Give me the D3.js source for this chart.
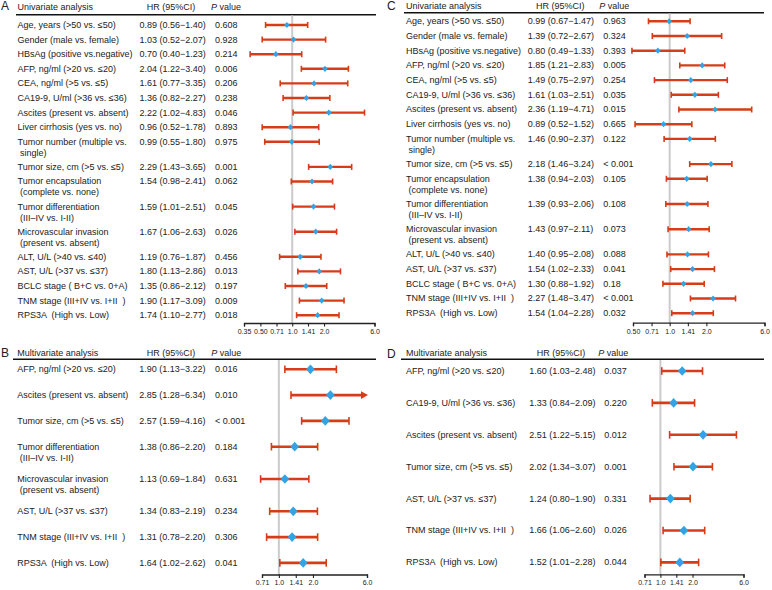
<!DOCTYPE html>
<html><head><meta charset="utf-8">
<script src="https://cdn.jsdelivr.net/npm/d3@7/dist/d3.min.js"></script>
<style>
body{margin:0;background:#fff}
text{font-family:"Liberation Sans",Arial,Helvetica,sans-serif;fill:#222}
</style>
</head><body>
<svg id="chart" width="772" height="590"></svg>
<script>
// ---------- DATA ----------
const uniLabels = [
  "Age, years (>50 vs. \u226450)",
  "Gender (male vs. female)",
  "HBsAg (positive vs.negative)",
  "AFP, ng/ml (>20 vs. \u226420)",
  "CEA, ng/ml (>5 vs. \u22645)",
  "CA19-9, U/ml (>36 vs. \u226436)",
  "Ascites (present vs. absent)",
  "Liver cirrhosis (yes vs. no)",
  "Tumor number (multiple vs.\n single)",
  "Tumor size, cm (>5 vs. \u22645)",
  "Tumor encapsulation\n (complete vs. none)",
  "Tumor differentiation\n (III\u2013IV vs. I-II)",
  "Microvascular invasion\n (present vs. absent)",
  "ALT, U/L (>40 vs. \u226440)",
  "AST, U/L (>37 vs. \u226437)",
  "BCLC stage ( B+C vs. 0+A)",
  "TNM stage (III+IV vs. I+II  )",
  "RPS3A  (High vs. Low)"
];
const hrA = [0.89,1.03,0.70,2.04,1.61,1.36,2.22,0.96,0.99,2.29,1.54,1.59,1.67,1.19,1.80,1.35,1.90,1.74];
const loA = [0.56,0.52,0.40,1.22,0.77,0.82,1.02,0.52,0.55,1.43,0.98,1.01,1.06,0.76,1.13,0.86,1.17,1.10];
const hiA = [1.40,2.07,1.23,3.40,3.35,2.27,4.83,1.78,1.80,3.65,2.41,2.51,2.63,1.87,2.86,2.12,3.09,2.77];
const pA  = ["0.608","0.928","0.214","0.006","0.206","0.238","0.046","0.893","0.975","0.001","0.062","0.045","0.026","0.456","0.013","0.197","0.009","0.018"];

const hrC = [0.99,1.39,0.80,1.85,1.49,1.61,2.36,0.89,1.46,2.18,1.38,1.39,1.43,1.40,1.54,1.30,2.27,1.54];
const loC = [0.67,0.72,0.49,1.21,0.75,1.03,1.19,0.52,0.90,1.46,0.94,0.93,0.97,0.95,1.02,0.88,1.48,1.04];
const hiC = [1.47,2.67,1.33,2.83,2.97,2.51,4.71,1.52,2.37,3.24,2.03,2.06,2.11,2.08,2.33,1.92,3.47,2.28];
const pC  = ["0.963","0.324","0.393","0.005","0.254","0.035","0.015","0.665","0.122","< 0.001","0.105","0.108","0.073","0.088","0.041","0.18","< 0.001","0.032"];

const labelsB = [
  "AFP, ng/ml (>20 vs. \u226420)",
  "Ascites (present vs. absent)",
  "Tumor size, cm (>5 vs. \u22645)",
  "Tumor differentiation\n (III\u2013IV vs. I-II)",
  "Microvascular invasion\n (present vs. absent)",
  "AST, U/L (>37 vs. \u226437)",
  "TNM stage (III+IV vs. I+II  )",
  "RPS3A  (High vs. Low)"
];
const hrB = [1.90,2.85,2.57,1.38,1.13,1.34,1.31,1.64];
const loB = [1.13,1.28,1.59,0.86,0.69,0.83,0.78,1.02];
const hiB = [3.22,6.34,4.16,2.20,1.84,2.19,2.20,2.62];
const pB  = ["0.016","0.010","< 0.001","0.184","0.631","0.234","0.306","0.041"];

const labelsD = [
  "AFP, ng/ml (>20 vs. \u226420)",
  "CA19-9, U/ml (>36 vs. \u226436)",
  "Ascites (present vs. absent)",
  "Tumor size, cm (>5 vs. \u22645)",
  "AST, U/L (>37 vs. \u226437)",
  "TNM stage (III+IV vs. I+II  )",
  "RPS3A  (High vs. Low)"
];
const hrD = [1.60,1.33,2.51,2.02,1.24,1.66,1.52];
const loD = [1.03,0.84,1.22,1.34,0.80,1.06,1.01];
const hiD = [2.48,2.09,5.15,3.07,1.90,2.60,2.28];
const pD  = ["0.037","0.220","0.012","0.001","0.331","0.026","0.044"];

const ticksA = [0.35,0.5,0.71,1,1.41,2,6];
const tickLabelsA = ["0.35","0.50","0.71","1.0","1.41","2.0","6.0"];
const ticksC = [0.5,0.71,1,1.41,2,6];
const tickLabelsC = ["0.50","0.71","1.0","1.41","2.0","6.0"];
const ticksBD = [0.71,1,1.41,2,6];
const tickLabelsBD = ["0.71","1.0","1.41","2.0","6.0"];

// ---------- STYLE ----------
const RED = "#d63c18", BLUE = "#33a3e4", GRAY = "#cbcbcb";

const svg = d3.select("#chart");

function fmtHR(h,l,u){ return h.toFixed(2)+" ("+l.toFixed(2)+"\u2212"+u.toFixed(2)+")"; }

function panel(cfg, labels, hr, lo, hi, p, ticks, tickLabels){
  const g = svg.append("g");
  const x = d3.scaleLog().base(2).domain(cfg.domain).range(cfg.range);
  const ys = []; let extra = 0;
  labels.forEach((lab,i)=>{
    ys.push(cfg.rowY0 + cfg.step*i + cfg.extra*extra);
    extra += lab.split("\n").length-1;
  });
  g.append("text").attr("x",cfg.letterX).attr("y",cfg.letterY)
    .style("font-size","12px").text(cfg.letter);
  g.append("text").attr("x",cfg.labelX).attr("y",cfg.headY).style("font-size","9px").text(cfg.title);
  g.append("text").attr("x",cfg.hrHeadX).attr("y",cfg.headY).style("font-size","9px").text("HR (95%CI)");
  const ph = g.append("text").attr("x",cfg.pHeadX).attr("y",cfg.headY).style("font-size","9px");
  ph.append("tspan").style("font-style","italic").text("P");
  ph.append("tspan").text(" value");
  g.append("line").attr("x1",cfg.lineX1).attr("x2",cfg.lineX2).attr("y1",cfg.lineY).attr("y2",cfg.lineY)
    .attr("stroke","#111").attr("stroke-width",1.4);
  g.append("line").attr("x1",x(1)).attr("x2",x(1)).attr("y1",cfg.lineY+0.7).attr("y2",cfg.axisY)
    .attr("stroke",GRAY).attr("stroke-width",2);
  labels.forEach((lab,i)=>{
    const y = ys[i];
    const t = g.append("text").attr("x",cfg.labelX).attr("y",y).style("font-size","9px");
    lab.split("\n").forEach((ln,k)=>{
      t.append("tspan").attr("x",cfg.labelX).attr("dy", k===0? "0.33em" : "11px")
       .style("white-space","pre").attr("xml:space","preserve").text(ln);
    });
    g.append("text").attr("x",cfg.hrX).attr("y",y).attr("dy","0.33em").style("font-size","9px").text(fmtHR(hr[i],lo[i],hi[i]));
    g.append("text").attr("x",cfg.pX).attr("y",y).attr("dy","0.33em").style("font-size","9px").text(p[i]);
  });
  const maxV = cfg.domain[1];
  const bars = g.append("g");
  hr.forEach((h,i)=>{
    const y = ys[i];
    const x1 = x(lo[i]);
    const clipped = hi[i] > maxV;
    const x2 = clipped ? x(maxV) - cfg.arrowLen + 1 : x(hi[i]);
    bars.append("line").attr("x1",x1).attr("x2",x2).attr("y1",y).attr("y2",y)
      .attr("stroke",RED).attr("stroke-width",cfg.barW);
    bars.append("line").attr("x1",x1).attr("x2",x1).attr("y1",y-cfg.capH).attr("y2",y+cfg.capH)
      .attr("stroke",RED).attr("stroke-width",1.6);
    if(clipped){
      const tip = x(maxV)+1;
      bars.append("path").attr("d",`M${tip},${y}L${tip-cfg.arrowLen},${y-3.8}L${tip-cfg.arrowLen},${y+3.8}Z`).attr("fill",RED);
    } else {
      bars.append("line").attr("x1",x2).attr("x2",x2).attr("y1",y-cfg.capH).attr("y2",y+cfg.capH)
        .attr("stroke",RED).attr("stroke-width",1.6);
    }
    const cx = x(h), s = cfg.mk;
    bars.append("path").attr("d",`M${cx},${y-s*1.1}L${cx+s},${y}L${cx},${y+s*1.1}L${cx-s},${y}Z`).attr("fill",BLUE);
  });
  const ax = g.append("g").attr("transform",`translate(0,${cfg.axisY})`)
    .call(d3.axisBottom(x).tickValues(ticks).tickFormat((d,i)=>tickLabels[i]).tickSizeOuter(0).tickSize(3.5).tickPadding(2.5));
  ax.select(".domain").attr("stroke","#222").attr("stroke-width",1.3);
  ax.selectAll(".tick line").attr("stroke","#222").attr("stroke-width",1.1);
  ax.selectAll(".tick text").style("font-family",'"Liberation Sans Narrow","Arial Narrow","Liberation Sans",sans-serif')
    .style("font-size","7px").attr("fill","#222");
}

panel({letter:"A",title:"Univariate analysis",letterX:1,letterY:10,headY:9.7,lineY:14.7,lineX1:16,lineX2:376,
  labelX:17.5,hrX:139.5,pX:215,hrHeadX:146.7,pHeadX:211,rowY0:25,step:14.6,extra:10.5,
  axisY:323,range:[244,374.5],domain:[0.35,6],mk:2.8,barW:2.4,capH:3,arrowLen:6},
  uniLabels,hrA,loA,hiA,pA,ticksA,tickLabelsA);

panel({letter:"C",title:"Univariate analysis",letterX:387,letterY:10,headY:8.5,lineY:12.7,lineX1:404,lineX2:764,
  labelX:406,hrX:527.7,pX:603.3,hrHeadX:536,pHeadX:599.3,rowY0:21.3,step:14.7,extra:10.5,
  axisY:322.7,range:[633,764.5],domain:[0.5,6],mk:2.8,barW:2.4,capH:3,arrowLen:6},
  uniLabels,hrC,loC,hiC,pC,ticksC,tickLabelsC);

panel({letter:"B",title:"Multivariate analysis",letterX:1,letterY:357,headY:355.5,lineY:359.3,lineX1:13,lineX2:376,
  labelX:17.3,hrX:139.3,pX:215,hrHeadX:146.7,pHeadX:211.3,rowY0:369.3,step:25.8,extra:6.5,
  axisY:574.5,range:[262,367],domain:[0.71,6],mk:4.4,barW:2.6,capH:3.8,arrowLen:7},
  labelsB,hrB,loB,hiB,pB,ticksBD,tickLabelsBD);

panel({letter:"D",title:"Multivariate analysis",letterX:387,letterY:358,headY:355.5,lineY:359.3,lineX1:401,lineX2:764,
  labelX:406,hrX:529.3,pX:604.3,hrHeadX:536.7,pHeadX:598.3,rowY0:371,step:31.9,extra:0,
  axisY:574.3,range:[644.5,743.5],domain:[0.71,6],mk:4.4,barW:2.6,capH:3.8,arrowLen:7},
  labelsD,hrD,loD,hiD,pD,ticksBD,tickLabelsBD);
</script>
</body></html>
